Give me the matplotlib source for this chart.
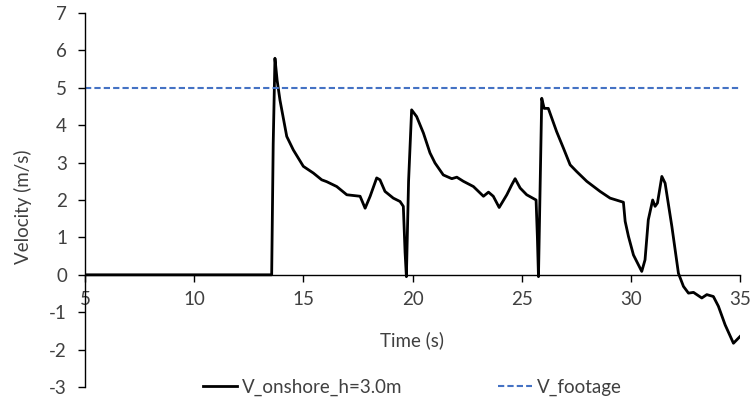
import matplotlib
matplotlib.use('Agg')
import matplotlib.pyplot as plt

# onshore velocity trace
time_s = [5.0, 13.55, 13.62, 13.70, 13.80, 13.93, 14.24, 14.54, 14.77, 15.00, 15.46, 15.84,
          16.07, 16.53, 16.99, 17.60, 17.83, 18.06, 18.36, 18.51, 18.74, 19.12, 19.43,
          19.58, 19.66, 19.72, 19.82, 19.96, 20.19, 20.50, 20.80, 21.03, 21.41, 21.80,
          22.03, 22.33, 22.79, 23.25, 23.48, 23.70, 23.97, 24.32, 24.55, 24.70, 24.93,
          25.23, 25.66, 25.72, 25.77, 25.85, 25.92, 26.03, 26.22, 26.60, 26.91, 27.22,
          27.52, 27.98, 28.59, 29.05, 29.66, 29.74, 29.89, 30.12, 30.50, 30.65, 30.80,
          31.00, 31.11, 31.22, 31.42, 31.57, 31.88, 32.18, 32.41, 32.64, 32.87, 33.25,
          33.48, 33.78, 34.01, 34.32, 34.70, 35.00]
velocity = [0.0, 0.0, 3.5, 5.79, 5.2, 4.67, 3.70, 3.34, 3.12, 2.90, 2.72, 2.54,
            2.49, 2.36, 2.14, 2.10, 1.78, 2.10, 2.59, 2.54, 2.23, 2.05, 1.96,
            1.83, 0.6, -0.05, 2.5, 4.41, 4.23, 3.79, 3.26, 2.99, 2.67, 2.57,
            2.61, 2.50, 2.36, 2.10, 2.21, 2.10, 1.80, 2.14, 2.41, 2.57, 2.32,
            2.14, 2.00, 1.0, -0.05, 2.5, 4.72, 4.45, 4.45, 3.83, 3.39, 2.94,
            2.76, 2.50, 2.23, 2.05, 1.94, 1.43, 1.03, 0.53, 0.09, 0.40, 1.47,
            2.00, 1.83, 1.92, 2.63, 2.45, 1.29, 0.04, -0.31, -0.49, -0.47, -0.62,
            -0.53, -0.58, -0.84, -1.34, -1.83, -1.65]
v_footage = 5.0
x_ticks = [5, 10, 15, 20, 25, 30, 35]
y_ticks = [-3, -2, -1, 0, 1, 2, 3, 4, 5, 6, 7]

plt.rcParams['font.family'] = ['Lato', 'DejaVu Sans']
plt.rcParams['axes.unicode_minus'] = False

fig = plt.figure(figsize=(7.51, 4.0), dpi=100)
ax = fig.add_axes([85 / 751, (400 - 387) / 400, (740 - 85) / 751, (387 - 13) / 400])

ax.plot(time_s, velocity, color='black', lw=2, label='V_onshore_h=3.0m')
ax.axhline(v_footage, color='#4472C4', lw=1.5, ls=(0, (3, 1.5)), label='V_footage')

ax.set_xlim(5, 35)
ax.set_ylim(-3, 7)
ax.set_xticks(x_ticks)
ax.set_yticks(y_ticks)
ax.spines['top'].set_visible(False)
ax.spines['right'].set_visible(False)
ax.spines['bottom'].set_position(('data', 0))
ax.tick_params(axis='both', labelsize=13.5, length=5, width=1, colors='black',
               labelcolor='#404040')
ax.tick_params(axis='x', pad=7)
ax.tick_params(axis='y', pad=8)
for s in ('left', 'bottom'):
    ax.spines[s].set_linewidth(1)

fig.text(412 / 751, 1 - 340 / 400, 'Time (s)', ha='center', va='center',
         fontsize=13.5, color='#404040')
fig.text(23 / 751, 1 - 207 / 400, 'Velocity (m/s)', rotation=90, ha='center',
         va='center', fontsize=13.5, color='#404040')

leg = ax.legend(loc='center', bbox_to_anchor=(0.5, 0.0), ncol=2, frameon=False,
                fontsize=13.5, handlelength=1.8, handletextpad=0.28, columnspacing=5.1)
for t in leg.get_texts():
    t.set_color('#404040')

fig.savefig('out.png', dpi=100)
